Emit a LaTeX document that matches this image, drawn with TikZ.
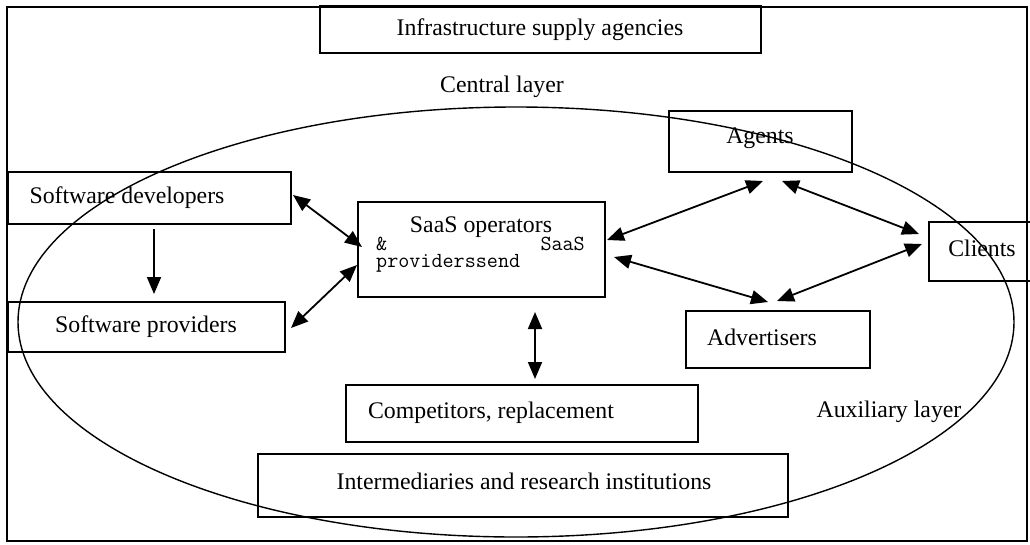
\documentclass[tikz,border=0pt]{standalone}
\usepackage{fontspec}
\setmainfont{Liberation Serif}
\usetikzlibrary{arrows.meta}
\begin{document}
\begin{tikzpicture}[x=1pt,y=-1pt,
  font=\fontsize{23.8}{26}\selectfont,
  box/.style={draw, line width=1.6pt, inner sep=0pt},
  lbl/.style={inner sep=0pt, anchor=center},
  mono/.style={inner sep=0pt, font=\ttfamily\fontsize{21.5}{22}\selectfont},
  tip/.tip={Triangle[length=17pt,width=14pt]},
  dbl/.style={line width=1.8pt, tip-tip},
  one/.style={line width=1.8pt, -tip}]
\useasboundingbox (0,0) rectangle (1030,544);
% outer frame
\draw[line width=1.3pt] (7,7) rectangle (1027,541);
% layer boundary
\draw[line width=1.4pt] (516,322) ellipse [x radius=498, y radius=215];

% boxes
\node[box, minimum width=441, minimum height=47] (infra) at (540.5,29.5) {};
\node[lbl] (infratext) at (540,30) {Infrastructure supply agencies};
\node[lbl] (central) at (502,87) {Central layer};
\node[lbl] (aux) at (889,412) {Auxiliary layer};

\node[box, minimum width=283, minimum height=52] (dev) at (149.5,198) {};
\node[lbl] (devtext) at (127,198) {Software developers};
\node[box, minimum width=277, minimum height=50] (prov) at (146.5,327) {};
\node[lbl] (provtext) at (146,327) {Software providers};

\node[box, minimum width=247, minimum height=95] (saas) at (481.5,249.5) {};
\node[lbl] (saastext) at (481,227) {SaaS operators};
\node[mono, anchor=south west, text height=13pt, text depth=0pt] (amp) at (376,251) {\&};
\node[mono, anchor=north west, text height=14pt, text depth=4pt] (provsend) at (376,253) {providerssend};
\node[mono, anchor=east] (saasmono) at (585,244) {SaaS};

\node[box, minimum width=183, minimum height=61] (agents) at (760.5,141.5) {};
\node[lbl] (agentstext) at (760,138) {Agents};
\node[box, minimum width=184, minimum height=57] (adv) at (778,339.5) {};
\node[lbl] (advtext) at (762,337) {Advertisers};
\node[box, minimum width=106, minimum height=59, anchor=west] (clients) at (928,251.5) {};
\node[lbl] (clientstext) at (982,248) {Clients};

\node[box, minimum width=352, minimum height=57] (comp) at (522,413.5) {};
\node[lbl] (comptext) at (491,413) {Competitors, replacement};
\node[box, minimum width=530, minimum height=63] (inter) at (523,485.5) {};
\node[lbl] (intertext) at (524,481) {Intermediaries and research institutions};

% connector ends
\coordinate (d1) at (154,229);   \coordinate (p1) at (154,294);
\coordinate (d2) at (293,195);   \coordinate (s1) at (362,247);
\coordinate (p2) at (291,328);   \coordinate (s2) at (357,265);
\coordinate (s3) at (607,240);   \coordinate (a1) at (763,181);
\coordinate (a2) at (782,181);   \coordinate (c1) at (919,234);
\coordinate (s4) at (614,257);   \coordinate (v1) at (768,302);
\coordinate (v2) at (777,301);   \coordinate (c2) at (922,244);
\coordinate (s5) at (535,312);   \coordinate (m1) at (535,379);

% connectors
\draw[one] (d1) -- (p1);
\draw[dbl] (d2) -- (s1);
\draw[dbl] (p2) -- (s2);
\draw[dbl] (s3) -- (a1);
\draw[dbl] (a2) -- (c1);
\draw[dbl] (s4) -- (v1);
\draw[dbl] (v2) -- (c2);
\draw[dbl] (s5) -- (m1);
\end{tikzpicture}
\end{document}
